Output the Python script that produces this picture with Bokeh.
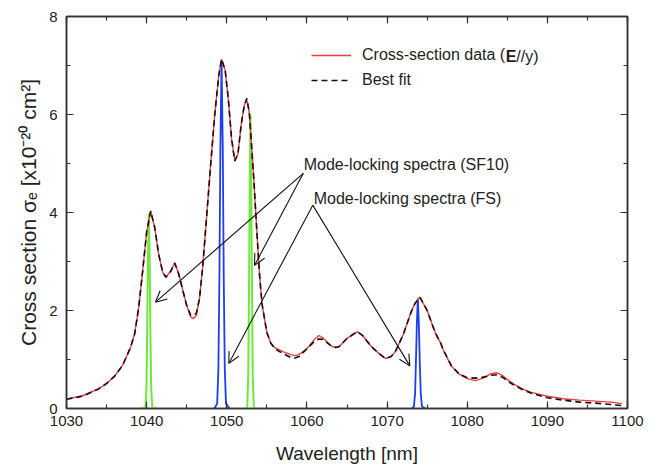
from bokeh.plotting import figure
from bokeh.models import (Range1d, SingleIntervalTicker, LinearAxis, Legend, LegendItem,
                          Label, Arrow, OpenHead, CustomJSTickFormatter)
from bokeh.embed import file_html
from bokeh.resources import INLINE

# ---------------- data ----------------
wavelength = [1030, 1032, 1034, 1035, 1036, 1037, 1038, 1038.5, 1039, 1039.5,
              1040, 1040.5, 1041, 1041.5, 1042, 1042.4, 1043, 1043.5, 1044, 1044.5,
              1045, 1045.5, 1045.8, 1046.2, 1046.6, 1047, 1047.5, 1048, 1048.5, 1049,
              1049.35, 1049.8, 1050.2, 1050.6, 1051, 1051.4, 1051.8, 1052.2, 1052.5, 1052.8,
              1053, 1053.4, 1053.8, 1054.1, 1054.4, 1055, 1055.5, 1056, 1057, 1058,
              1058.5, 1059, 1060, 1061, 1061.5, 1062, 1063, 1063.6, 1064, 1065,
              1066.3, 1067, 1068, 1069, 1069.8, 1070.5, 1071, 1072, 1073, 1073.5,
              1074.1, 1075, 1076, 1076.7, 1077, 1078, 1079, 1080, 1081, 1082,
              1083, 1083.7, 1084.5, 1085, 1086, 1087, 1088, 1090, 1092, 1094,
              1096, 1098, 1099.3]

sigma_data = [0.19, 0.26, 0.40, 0.51, 0.66, 0.88, 1.25, 1.52, 2.05, 2.80,
              3.60, 4.03, 3.70, 3.15, 2.78, 2.68, 2.80, 2.97, 2.75, 2.42,
              2.10, 1.87, 1.83, 1.90, 2.25, 2.90, 3.95, 5.00, 6.00, 6.80,
              7.13, 6.90, 6.30, 5.50, 5.05, 5.20, 5.80, 6.20, 6.30, 6.05,
              5.60, 4.60, 3.48, 2.70, 2.13, 1.55, 1.33, 1.24, 1.16, 1.10,
              1.08, 1.10, 1.22, 1.42, 1.49, 1.44, 1.28, 1.24, 1.26, 1.43,
              1.57, 1.48, 1.27, 1.12, 1.02, 1.06, 1.15, 1.50, 1.97, 2.15,
              2.27, 2.00, 1.55, 1.33, 1.20, 0.87, 0.70, 0.61, 0.57, 0.62,
              0.71, 0.73, 0.66, 0.59, 0.48, 0.39, 0.33, 0.25, 0.20, 0.17,
              0.15, 0.13, 0.10]

sigma_fit = [0.19, 0.25, 0.40, 0.51, 0.66, 0.88, 1.25, 1.52, 2.05, 2.80,
             3.60, 4.03, 3.70, 3.15, 2.78, 2.68, 2.80, 2.97, 2.75, 2.42,
             2.10, 1.90, 1.90, 1.94, 2.25, 2.90, 3.95, 5.00, 6.00, 6.80,
             7.13, 6.90, 6.30, 5.50, 5.05, 5.20, 5.80, 6.20, 6.33, 6.05,
             5.60, 4.60, 3.48, 2.70, 2.13, 1.55, 1.33, 1.22, 1.12, 1.04,
             1.03, 1.06, 1.22, 1.38, 1.42, 1.41, 1.28, 1.25, 1.26, 1.43,
             1.57, 1.48, 1.27, 1.12, 1.02, 1.06, 1.15, 1.50, 1.97, 2.15,
             2.27, 2.00, 1.55, 1.33, 1.20, 0.88, 0.70, 0.63, 0.62, 0.64,
             0.68, 0.69, 0.63, 0.56, 0.46, 0.38, 0.31, 0.22, 0.17, 0.13,
             0.11, 0.08, 0.06]

# Mode-locking spectra (SF10) - green
sf10_wl_1 = [1039.2, 1039.85, 1039.98, 1040.08, 1040.17, 1040.27, 1040.37, 1040.46, 1040.56, 1040.7, 1041.3]
sf10_val_1 = [0.0, 0.02, 0.45, 1.70, 3.10, 3.98, 3.10, 1.70, 0.45, 0.02, 0.0]
sf10_wl_2 = [1052.3, 1052.55, 1052.68, 1052.78, 1052.87, 1052.96, 1053.05, 1053.14, 1053.24, 1053.37, 1053.6]
sf10_val_2 = [0.0, 0.02, 0.68, 2.55, 4.65, 6.00, 4.65, 2.55, 0.68, 0.02, 0.0]

# Mode-locking spectra (FS) - blue
fs_wl_1 = [1048.45, 1048.8, 1048.95, 1049.08, 1049.2, 1049.35, 1049.5, 1049.62, 1049.75, 1049.9, 1050.35]
fs_val_1 = [0.0, 0.10, 0.80, 2.70, 5.30, 7.10, 5.30, 2.70, 0.80, 0.10, 0.0]
fs_wl_2 = [1073.1, 1073.35, 1073.5, 1073.6, 1073.72, 1073.84, 1073.96, 1074.08, 1074.2, 1074.35, 1074.8]
fs_val_2 = [0.0, 0.04, 0.32, 0.95, 1.75, 2.25, 1.75, 0.95, 0.32, 0.04, 0.0]

# annotation arrows: start (text anchor) and tip, in data units
sf10_origin = (1059.55, 4.80)
sf10_tips = [(1041.1, 2.17), (1053.46, 2.92)]
fs_origin = (1060.73, 4.15)
fs_tips = [(1050.25, 0.92), (1072.84, 0.87)]

x_ticks_interval = 10
y_ticks_interval = 2

FONT = "Liberation Sans"

# ---------------- figure ----------------
W, H = 647, 466
BL, BR, BT, BB = 66, 20, 16, 54
p = figure(width=W, height=H, output_backend="svg", toolbar_location=None,
           x_range=Range1d(1030, 1100), y_range=Range1d(0, 8),
           min_border_left=BL, min_border_right=BR, min_border_top=BT, min_border_bottom=BB,
           background_fill_color="white", border_fill_color="white")
p.grid.visible = False
p.outline_line_color = "#333333"
p.outline_line_width = 1.5

frame_w = W - BL - BR
frame_h = H - BT - BB


def style_ticks(ax):
    ax.axis_line_color = "#333333"
    ax.axis_line_width = 1.5
    ax.major_tick_in = 7
    ax.major_tick_out = 0
    ax.minor_tick_in = 4
    ax.minor_tick_out = 0
    ax.major_tick_line_color = "#333333"
    ax.minor_tick_line_color = "#333333"
    ax.major_tick_line_width = 1.2
    ax.minor_tick_line_width = 1.2


for ax in (p.xaxis[0], p.yaxis[0]):
    style_ticks(ax)
    ax.major_label_text_font = FONT
    ax.major_label_text_font_size = "15px"
    ax.major_label_text_color = "#222222"
    ax.axis_label_text_font = FONT
    ax.axis_label_text_font_style = "normal"
    ax.axis_label_text_color = "#222222"

p.xaxis[0].ticker = SingleIntervalTicker(interval=x_ticks_interval, num_minor_ticks=2)
p.yaxis[0].ticker = SingleIntervalTicker(interval=y_ticks_interval, num_minor_ticks=2)
p.xaxis[0].axis_label = "Wavelength [nm]"
p.yaxis[0].axis_label = "Cross section σₑ [x10⁻²⁰ cm²]"
p.xaxis[0].axis_label_text_font_size = "19px"
p.yaxis[0].axis_label_text_font_size = "21px"
p.xaxis[0].major_label_standoff = 7
p.xaxis[0].axis_label_standoff = 14
p.yaxis[0].major_label_standoff = 9
p.yaxis[0].axis_label_standoff = 6

# mirrored tick axes (top and right), no labels
for loc, tick in (("above", x_ticks_interval), ("right", y_ticks_interval)):
    ax = LinearAxis(ticker=SingleIntervalTicker(interval=tick, num_minor_ticks=2),
                    formatter=CustomJSTickFormatter(code="return ''"))
    style_ticks(ax)
    ax.major_label_standoff = 0
    p.add_layout(ax, loc)

# ---------------- glyphs ----------------
green = "#6fe83a"
blue = "#1f3df0"
for wl, val in ((sf10_wl_1, sf10_val_1), (sf10_wl_2, sf10_val_2)):
    p.line(wl, val, line_color=green, line_width=2.0)
for wl, val in ((fs_wl_1, fs_val_1), (fs_wl_2, fs_val_2)):
    p.line(wl, val, line_color=blue, line_width=1.8)

r_data = p.line(wavelength, sigma_data, line_color="#f23c3c", line_width=1.4)
r_fit = p.line(wavelength, sigma_fit, line_color="#111111", line_width=1.6, line_dash="6 4")

# ---------------- arrows & annotation text ----------------
for (ox, oy), tips in ((sf10_origin, sf10_tips), (fs_origin, fs_tips)):
    for tx, ty in tips:
        p.add_layout(Arrow(end=OpenHead(size=11, line_width=1.1, line_color="#111111"),
                           x_start=ox, y_start=oy, x_end=tx, y_end=ty,
                           line_width=1.1, line_color="#111111"))

p.add_layout(Label(x=1059.6, y=4.98, text="Mode-locking spectra (SF10)", text_font=FONT,
                   text_font_size="16px", text_color="#222222", text_baseline="alphabetic"))
p.add_layout(Label(x=1060.85, y=4.28, text="Mode-locking spectra (FS)", text_font=FONT,
                   text_font_size="16px", text_color="#222222", text_baseline="alphabetic"))

# ---------------- legend ----------------
leg_x, leg_y = 245, 318
glyph_w, standoff = 40, 11
legend = Legend(items=[LegendItem(label="Cross-section data (", renderers=[r_data]),
                       LegendItem(label="Best fit", renderers=[r_fit])],
                location=(leg_x, leg_y), glyph_width=glyph_w, glyph_height=20,
                label_height=20, label_standoff=standoff, spacing=5, padding=0, margin=0,
                border_line_color=None, background_fill_alpha=0,
                label_text_font=FONT, label_text_font_size="16px", label_text_color="#222222")
p.add_layout(legend)

# remainder of first legend label: bold E, then "//y)"
px_per_nm = frame_w / 70.0
px_per_unit = frame_h / 8.0
text_left = leg_x + glyph_w + standoff
w_first = 8.947 * 16  # width of "Cross-section data (" in Liberation Sans 16px
row1_center_from_bottom = leg_y + 45 - 10 + 3
xe = 1030 + (text_left + w_first) / px_per_nm
ye = row1_center_from_bottom / px_per_unit
p.add_layout(Label(x=xe, y=ye, text="E", text_font=FONT, text_font_size="16px",
                   text_font_style="bold", text_color="#222222", text_baseline="middle"))
xr = 1030 + (text_left + w_first + 0.667 * 16) / px_per_nm
p.add_layout(Label(x=xr, y=ye, text="//y)", text_font=FONT, text_font_size="16px",
                   text_color="#222222", text_baseline="middle"))

open("out.html", "w").write(file_html(p, INLINE))
